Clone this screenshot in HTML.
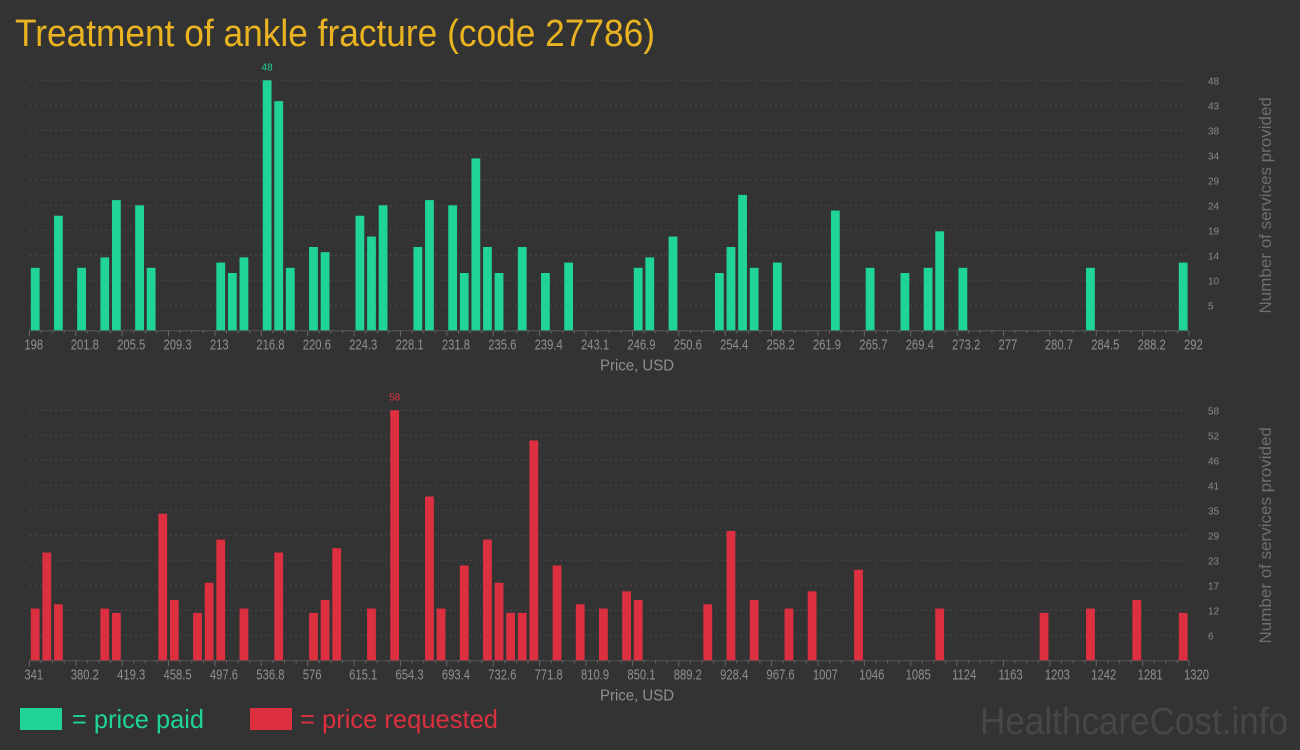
<!DOCTYPE html>
<html><head><meta charset="utf-8"><style>
body{margin:0;background:#333;}
svg{display:block;font-family:"Liberation Sans",sans-serif;}
</style></head><body>
<svg id="c" width="1300" height="750">
<rect width="1300" height="750" fill="#333"/>
<text x="15" y="46" font-size="38" fill="#e9b321" textLength="640" lengthAdjust="spacingAndGlyphs">Treatment of ankle fracture (code 27786)</text>
<g id="top"></g>
<g id="bot"></g>
<rect x="20" y="708" width="42" height="22" fill="#1fd494"/>
<text x="72" y="728" font-size="26" fill="#1fd494" textLength="132" lengthAdjust="spacingAndGlyphs">= price paid</text>
<rect x="250" y="708" width="42" height="22" fill="#dc3040"/>
<text x="300" y="728" font-size="26" fill="#dc3040" textLength="198" lengthAdjust="spacingAndGlyphs">= price requested</text>
<text x="1288" y="734" font-size="38" fill="#474747" text-anchor="end" textLength="308" lengthAdjust="spacingAndGlyphs">HealthcareCost.info</text>
</svg>
<script>
const topTicks=["198","201.8","205.5","209.3","213","216.8","220.6","224.3","228.1","231.8","235.6","239.4","243.1","246.9","250.6","254.4","258.2","261.9","265.7","269.4","273.2","277","280.7","284.5","288.2","292"];
const topYTicks=["5","10","14","19","24","29","34","38","43","48"];
const topBins=[0,2,4,6,7,9,10,16,17,18,20,21,22,24,25,28,29,30,33,34,36,37,38,39,40,42,44,46,52,53,55,59,60,61,62,64,69,72,75,77,78,80,91,99];
const topVals=[12,22,12,14,25,24,12,13,11,14,48,44,12,16,15,22,18,24,16,25,24,11,33,16,11,16,11,13,12,14,18,11,16,26,12,13,23,12,11,12,19,12,12,13];
const botTicks=["341","380.2","419.3","458.5","497.6","536.8","576","615.1","654.3","693.4","732.6","771.8","810.9","850.1","889.2","928.4","967.6","1007","1046","1085","1124","1163","1203","1242","1281","1320"];
const botYTicks=["6","12","17","23","29","35","41","46","52","58"];
const botBins=[0,1,2,6,7,11,12,14,15,16,18,21,24,25,26,29,31,34,35,37,39,40,41,42,43,45,47,49,51,52,58,60,62,65,67,71,78,87,91,95,99];
const botVals=[12,25,13,12,11,34,14,11,18,28,12,25,11,14,26,12,58,38,12,22,28,18,11,11,51,22,13,12,16,14,13,30,14,12,16,21,12,11,12,14,11];
const NS="http://www.w3.org/2000/svg";
function mk(p,t,a){const e=document.createElementNS(NS,t);for(const k in a)e.setAttribute(k,a[k]);p.appendChild(e);return e;}
function draw(g,y0,ticks,yTicks,bins,vals,color,nm){
  const X0=29.4,X1=1189,base=y0+250,top=y0;
  const nb=100,bw=(X1-X0)/nb;
  const maxV=Math.max(...vals);
  const xs=i=>X0+i*bw;
  const ys=v=>base-(v/maxV)*(base-top);
  for(let k=0;k<10;k++){
    const y=top+k*25;
    const l=mk(g,'line',{x1:30,x2:1190,y1:y,y2:y,stroke:'#4a4a4a','stroke-dasharray':'2,3'});
    
    
    const t=mk(g,'text',{x:1208,y:y+4,'font-size':10,fill:'#8a8a8a'});
    
    
    t.textContent=yTicks[9-k];
  }
  const ax=mk(g,'line',{x1:X0,x2:X1,y1:base+0.5,y2:base+0.5,stroke:'#555'});
  
  
  for(let i=0;i<=nb;i++){
    const x=xs(i),maj=i%4===0;
    const tk=mk(g,'line',{x1:x,x2:x,y1:base,y2:base+(maj?6:3),stroke:'#666'});
    
    
  }
  ticks.forEach((s,i)=>{
    const t=mk(g,'text',{x:xs(i*4)-5,y:base+19,'font-size':15,fill:'#8f8f8f',transform:`translate(${xs(i*4)-5},0) scale(0.75,1) translate(${-(xs(i*4)-5)},0)`});
    
    
    t.textContent=s;
  });
  const xt=mk(g,'text',{x:637,y:base+40,'font-size':16,fill:'#8f8f8f','text-anchor':'middle',textLength:74,lengthAdjust:'spacingAndGlyphs'});
  
  
  xt.textContent='Price, USD';
  const cy=top+125;
  const yt=mk(g,'text',{x:0,y:0,'font-size':17,fill:'#6e6e6e','text-anchor':'middle',transform:`translate(1271,${cy}) rotate(-90)`});
  
  
  yt.textContent='Number of services provided';
  bins.forEach((b,i)=>{
    const v=vals[i],y=ys(v);
    const r=mk(g,'rect',{x:xs(b)+1.4,y:y,width:8.8,height:base-y,fill:color});
    
    
    if(v===maxV){
      const t=mk(g,'text',{x:xs(b)+5.8,y:y-10,'font-size':10,fill:color,'text-anchor':'middle'});
      
      
      t.textContent=v;
    }
  });
}
draw(document.getElementById('top'),80.3,topTicks,topYTicks,topBins,topVals,'#1fd494','paid');
draw(document.getElementById('bot'),410.3,botTicks,botYTicks,botBins,botVals,'#dc3040','requested');
</script>
</body></html>
